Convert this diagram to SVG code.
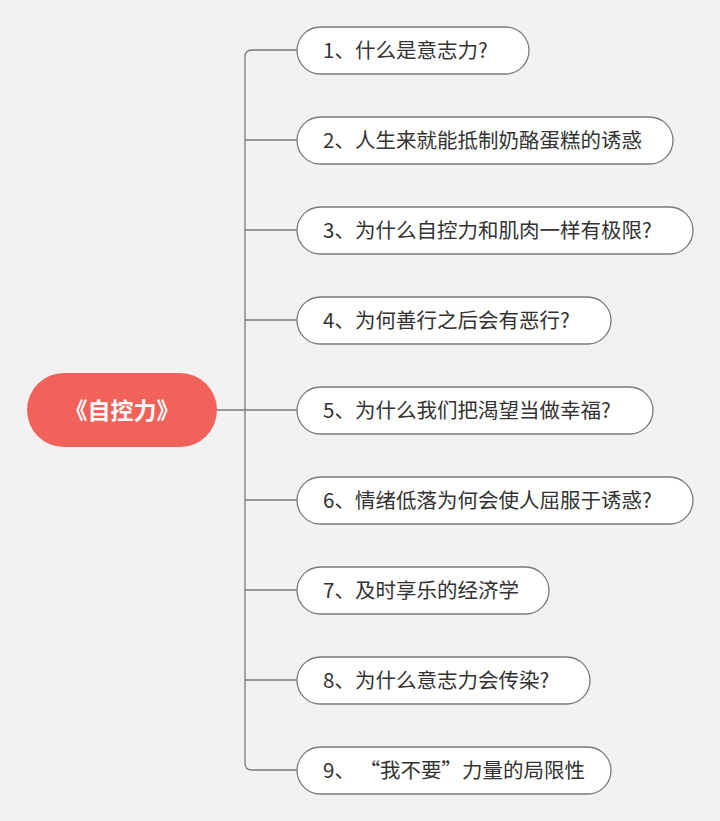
<svg xmlns="http://www.w3.org/2000/svg" width="720" height="821" viewBox="0 0 720 821">
<style>
.bg{fill:#f2f2f2}
.n rect{fill:#ffffff;stroke:#7a7a7a;stroke-width:1.3}
.n text{font-family:"Noto Sans CJK SC","Microsoft YaHei",sans-serif;font-size:20.5px;fill:#333333}
.c path{fill:none;stroke:#7a7a7a;stroke-width:1.3}
#root rect{fill:#f1625a}
#root text{font-family:"Noto Sans CJK SC",sans-serif;font-size:23px;font-weight:bold;fill:#ffffff}
</style>
<rect class="bg" x="0" y="0" width="720" height="821"/>
<g class="c" id="connectors">
<path d="M297,50 H252 Q245,50 245,57 V763 Q245,770 252,770 H297"/>
<path d="M245,140 H297"/>
<path d="M245,230 H297"/>
<path d="M245,320 H297"/>
<path d="M217,410 H297"/>
<path d="M245,500 H297"/>
<path d="M245,590 H297"/>
<path d="M245,680 H297"/>
</g>
<g id="root"><rect x="27" y="373" width="190" height="74" rx="37"/><text x="122" y="418.5" text-anchor="middle">《自控力》</text></g>
<g class="n" id="n1"><rect x="297" y="27" width="232" height="47" rx="23.5"/><text x="323" y="58">1、什么是意志力?</text></g>
<g class="n" id="n2"><rect x="297" y="117" width="376" height="47" rx="23.5"/><text x="323" y="148">2、人生来就能抵制奶酪蛋糕的诱惑</text></g>
<g class="n" id="n3"><rect x="297" y="207" width="396" height="47" rx="23.5"/><text x="323" y="238">3、为什么自控力和肌肉一样有极限?</text></g>
<g class="n" id="n4"><rect x="297" y="297" width="314" height="47" rx="23.5"/><text x="323" y="328">4、为何善行之后会有恶行?</text></g>
<g class="n" id="n5"><rect x="297" y="387" width="356" height="47" rx="23.5"/><text x="323" y="418">5、为什么我们把渴望当做幸福?</text></g>
<g class="n" id="n6"><rect x="297" y="477" width="396" height="47" rx="23.5"/><text x="323" y="508">6、情绪低落为何会使人屈服于诱惑?</text></g>
<g class="n" id="n7"><rect x="297" y="567" width="252" height="47" rx="23.5"/><text x="323" y="598">7、及时享乐的经济学</text></g>
<g class="n" id="n8"><rect x="297" y="657" width="293" height="47" rx="23.5"/><text x="323" y="688">8、为什么意志力会传染?</text></g>
<g class="n" id="n9"><rect x="297" y="747" width="314" height="47" rx="23.5"/><text x="323" y="778" xml:space="preserve">9、 “我不要”力量的局限性</text></g>
</svg>
